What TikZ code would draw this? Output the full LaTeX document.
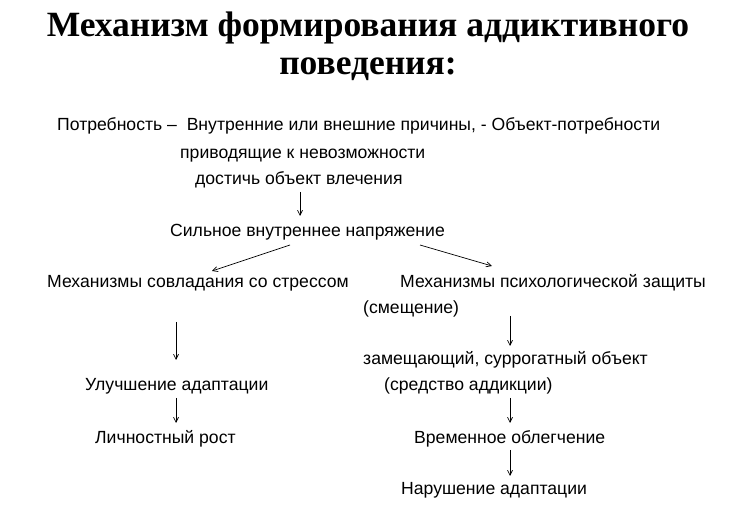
\documentclass[tikz,border=0pt]{standalone}
\usepackage{fontspec}
\setmainfont{Liberation Sans}
\newfontfamily\titlefont{Liberation Serif}
\usetikzlibrary{arrows.meta}
\begin{document}
\begin{tikzpicture}[x=1pt,y=-1pt,
  txt/.style = {anchor=base west,inner sep=0pt,font=\fontsize{17.6}{20}\selectfont},
  ttl/.style = {inner sep=0pt,font=\titlefont\bfseries\fontsize{35.5}{40}\selectfont},
  arr/.style = {-{Straight Barb[length=5pt,width=5pt]},line width=0.7pt}]
\useasboundingbox (0,0) rectangle (732,529);

\node[ttl] (t1) at (368,28) {Механизм формирования аддиктивного};
\node[ttl] (t2) at (368,69) {поведения:};

\node[txt] (need) at (57,131) {Потребность –\ \ Внутренние или внешние причины, - Объект-потребности};
\node[txt] (need2) at (180,159) {приводящие к невозможности};
\node[txt] (need3) at (195,185) {достичь объект влечения};
\node[txt] (tens) at (170,237) {Сильное внутреннее напряжение};
\node[txt] (cope) at (47,288) {Механизмы совладания со стрессом};
\node[txt] (def) at (400,288) {Механизмы психологической защиты};
\node[txt] (shift) at (363,314) {(смещение)};
\node[txt] (subst) at (363,365) {замещающий, суррогатный объект};
\node[txt] (adapt) at (85,391) {Улучшение адаптации};
\node[txt] (means) at (384,391) {(средство аддикции)};
\node[txt] (grow) at (95,444) {Личностный рост};
\node[txt] (relief) at (414,444) {Временное облегчение};
\node[txt] (fail) at (401,495) {Нарушение адаптации};

\coordinate (a1) at (300,192); \coordinate (b1) at (300,216);
\coordinate (a2) at (290,245); \coordinate (b2) at (212,271);
\coordinate (a3) at (420,245); \coordinate (b3) at (492,266);
\coordinate (a4) at (176,322); \coordinate (b4) at (176,360);
\coordinate (a5) at (510,316); \coordinate (b5) at (510,346);
\coordinate (a6) at (176,398); \coordinate (b6) at (176,423);
\coordinate (a7) at (510,398); \coordinate (b7) at (510,423);
\coordinate (a8) at (510,450); \coordinate (b8) at (510,476);

\foreach \i in {1,...,8}
  \draw[arr] (a\i) -- (b\i);
\end{tikzpicture}
\end{document}
